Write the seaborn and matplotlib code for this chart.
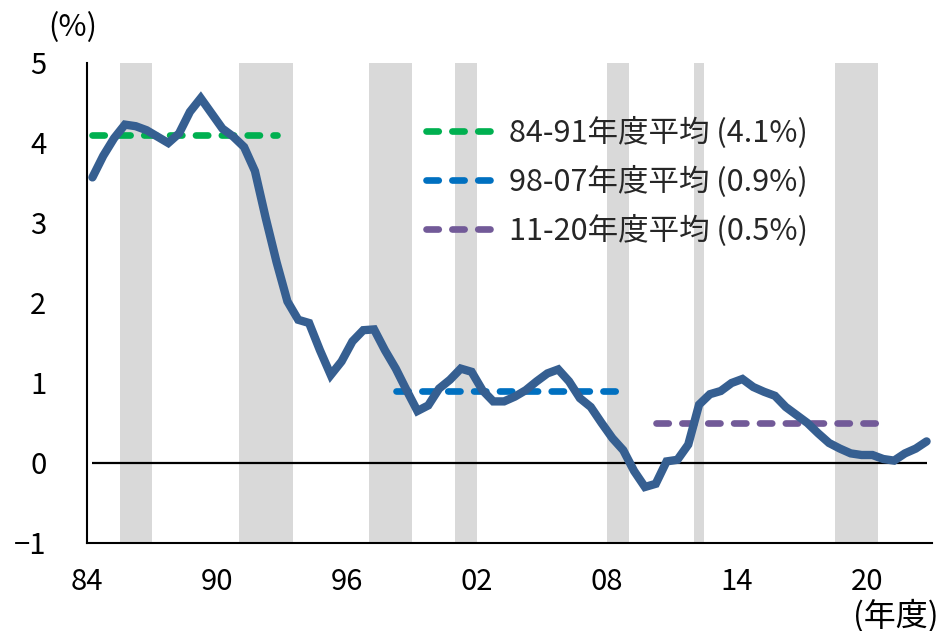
import numpy as np
import pandas as pd
import matplotlib
matplotlib.use("Agg")
import matplotlib.pyplot as plt
from matplotlib.lines import Line2D
import seaborn as sns

# Half-year observations, fiscal 1984 H1 through fiscal 2022 H2 (%)
values = [
    3.57, 3.84, 4.06, 4.23, 4.21, 4.16, 4.08, 4.00, 4.12, 4.39,
    4.56, 4.37, 4.18, 4.08, 3.95, 3.65, 3.06, 2.51, 2.02, 1.79,
    1.75, 1.41, 1.10, 1.27, 1.52, 1.66, 1.67, 1.41, 1.18, 0.91,
    0.65, 0.72, 0.93, 1.04, 1.18, 1.14, 0.91, 0.77, 0.77, 0.83,
    0.91, 1.02, 1.12, 1.17, 1.02, 0.81, 0.70, 0.50, 0.31, 0.16,
    -0.10, -0.30, -0.26, 0.02, 0.04, 0.23, 0.73, 0.86, 0.90, 1.00,
    1.05, 0.95, 0.89, 0.84, 0.70, 0.60, 0.50, 0.37, 0.25, 0.18,
    0.12, 0.10, 0.10, 0.05, 0.03, 0.12, 0.18, 0.27,
]
first_year = 1984

# Period averages: (start, end) in fiscal years and the average value
avg_labels = ["84-91年度平均", "98-07年度平均", "11-20年度平均"]
avg_spans = [(1984.25, 1992.75), (1998.25, 2008.75), (2010.25, 2020.75)]
avg_values = [4.1, 0.9, 0.5]
avg_colors = ["#00B050", "#0070C0", "#725A98"]

# Recession periods (shaded)
recessions = [(1985.5, 1987.0), (1991.0, 1993.5), (1997.0, 1999.0),
              (2001.0, 2002.0), (2008.0, 2009.0), (2012.0, 2012.5),
              (2018.5, 2020.5)]

tick_years = list(range(1984, 2023, 2))
labeled_years = [1984, 1990, 1996, 2002, 2008, 2014, 2020]

t = first_year + 0.25 + 0.5 * np.arange(len(values))
df = pd.DataFrame({"year": t, "value": values})

sns.set_theme(style="white")
plt.rcParams["font.family"] = ["Noto Sans CJK JP", "DejaVu Sans"]

fig = plt.figure(figsize=(9.46, 6.31), dpi=100)
ax = fig.add_axes([87 / 946, 1 - 543 / 631, (932 - 87) / 946, (543 - 63) / 631])

for a, b in recessions:
    ax.axvspan(a, b, color="#D9D9D9", lw=0, zorder=0)

ax.hlines(0, t[0], t[-1], color="black", lw=1.6, zorder=1)

dash = (0, (1.84, 2.04))
handles = []
for lab, (a, b), v, c in zip(avg_labels, avg_spans, avg_values, avg_colors):
    ax.plot([a, b], [v, v], color=c, lw=4.8, linestyle=dash,
            dash_capstyle="round", zorder=2)
    handles.append(Line2D([0], [0], color=c, lw=4.8, linestyle=dash,
                          dash_capstyle="round",
                          label=f"{lab} ({v:.1f}%)"))

sns.lineplot(data=df, x="year", y="value", ax=ax, color="#365F91",
             lw=6, zorder=3, legend=False)
ax.lines[-1].set_solid_joinstyle("miter")

ax.set_xlim(1984, 2023)
ax.set_ylim(-1, 5)
ax.set_xticks(tick_years)
ax.set_xticklabels([f"{y % 100:02d}" if y in labeled_years else ""
                    for y in tick_years])
ax.set_yticks(range(-1, 6))
ax.set_xlabel("")
ax.set_ylabel("")

for s in ["top", "right"]:
    ax.spines[s].set_visible(False)
for s in ["left", "bottom"]:
    ax.spines[s].set_color("black")
    ax.spines[s].set_linewidth(1.5)

ax.tick_params(axis="both", direction="out", length=7.2, width=1.5,
               color="black", labelsize=21, labelcolor="black")
ax.tick_params(axis="y", pad=22)
ax.tick_params(axis="x", pad=10)

leg = ax.legend(handles=handles, loc="upper left",
                bbox_to_anchor=(426 / 946, 1 - 117 / 631),
                bbox_transform=fig.transFigure, frameon=False,
                fontsize=22, handlelength=2.1, handletextpad=0.62,
                labelspacing=0.55, borderaxespad=0, borderpad=0)

fig.text(73 / 946, 1 - 28 / 631, "(%)", fontsize=22, ha="center",
         va="center", color="black")
fig.text(896 / 946, 1 - 599 / 631, "(年度)", fontsize=23, ha="center",
         va="top", color="black")

fig.savefig("out.png", dpi=100)
